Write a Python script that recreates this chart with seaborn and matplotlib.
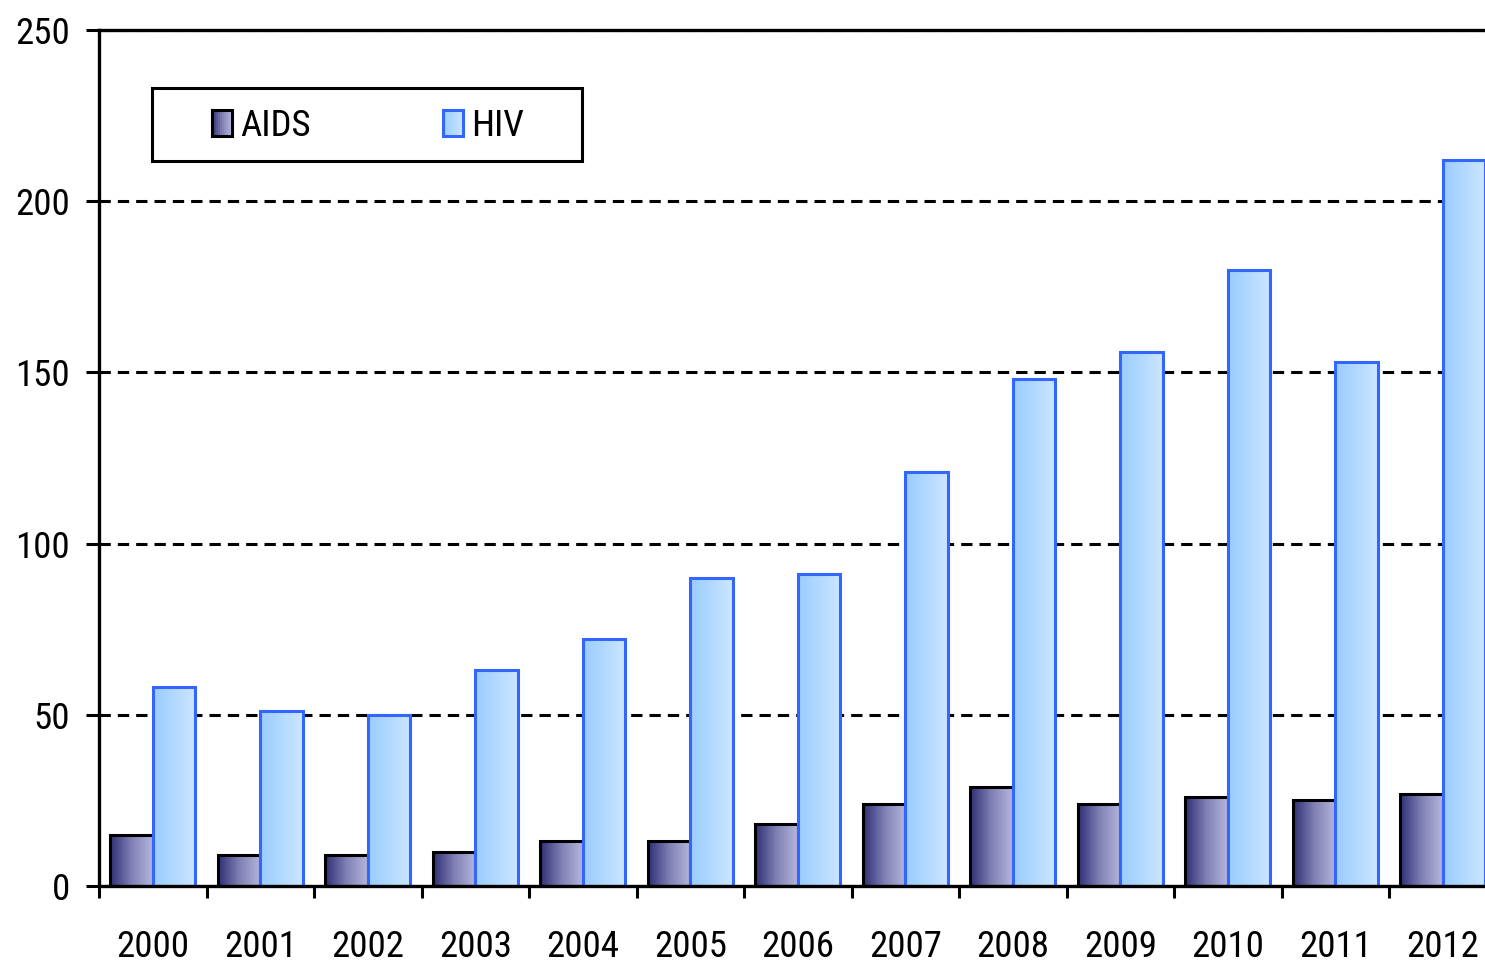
import numpy as np
import pandas as pd
import matplotlib
matplotlib.use("Agg")
import matplotlib.pyplot as plt
import seaborn as sns
from matplotlib import font_manager
from matplotlib.font_manager import FontProperties
from matplotlib.patches import Patch, Rectangle
from matplotlib.colors import LinearSegmentedColormap
from matplotlib.legend_handler import HandlerBase

# ---------------- data ----------------
years = ["2000", "2001", "2002", "2003", "2004", "2005", "2006",
         "2007", "2008", "2009", "2010", "2011", "2012"]
aids = [15, 9, 9, 10, 13, 13, 18, 24, 29, 24, 26, 25, 27]
hiv = [58, 51, 50, 63, 72, 90, 91, 121, 148, 156, 180, 153, 212]
series = ["AIDS", "HIV"]
y_ticks = [0, 50, 100, 150, 200, 250]

# ---------------- style ----------------
sns.set_style("white")
plt.rcParams["font.family"] = ["Liberation Sans", "DejaVu Sans"]
plt.rcParams["text.color"] = "black"
plt.rcParams["xtick.color"] = "black"
plt.rcParams["ytick.color"] = "black"

# pick a narrow / condensed sans font if one is installed
pref = ["Liberation Sans Narrow", "Arial Narrow", "Roboto Condensed",
        "Open Sans Condensed", "Noto Sans", "DejaVu Sans", "Roboto",
        "Open Sans", "Lato", "Inter"]
cands = []
for f in font_manager.fontManager.ttflist:
    narrow = ("Narrow" in f.name or "Condensed" in f.name
              or f.stretch in ("condensed", "semi-condensed"))
    if narrow and f.style == "normal" and f.weight in (400, "normal", "regular"):
        rank = next((i for i, p in enumerate(pref) if f.name.startswith(p)), 99)
        sc = 0 if f.stretch == "condensed" or "Narrow" in f.name else 1
        cands.append((rank, sc, f.fname))
if cands:
    cands.sort()
    fp_base = FontProperties(fname=cands[0][2])
else:
    fp_base = FontProperties(family=["Liberation Sans", "DejaVu Sans"])

# size the font so that "2000" is about 73 px wide (as in the picture)
_tmp = plt.figure(figsize=(4, 2), dpi=100)
_t = _tmp.text(0.1, 0.5, "2000", fontproperties=fp_base, fontsize=20)
_tmp.canvas.draw()
_w = _t.get_window_extent().width
plt.close(_tmp)
fs = min(30, 20 * 73.0 / _w)
fp = fp_base.copy()
fp.set_size(fs)

cmap_aids = LinearSegmentedColormap.from_list("aids", ["#2E2E74", "#8080B4", "#B6B6DE"])
cmap_hiv = LinearSegmentedColormap.from_list("hiv", ["#99CCFF", "#CCE6FF"])
edge_aids = "black"
edge_hiv = "#3366FF"

df = pd.DataFrame({
    "year": years * 2,
    "value": aids + hiv,
    "series": ["AIDS"] * len(years) + ["HIV"] * len(years),
})

W, H = 1485, 964
fig = plt.figure(figsize=(W / 100, H / 100), dpi=100)
ax = fig.add_axes([99 / W, 78 / H, 1397.5 / W, 856 / H])

sns.barplot(data=df, x="year", y="value", hue="series", hue_order=series,
            order=years, palette=["#7070A8", "#B3D9FF"], saturation=1,
            width=0.79, gap=0, dodge=True, legend=False, ax=ax, zorder=2)

grad = np.linspace(0, 1, 256).reshape(1, -1)
styles = {"AIDS": (cmap_aids, edge_aids), "HIV": (cmap_hiv, edge_hiv)}
for i, (name, cont) in enumerate(zip(series, ax.containers)):
    cmap, ec = styles[name]
    for bar in cont:
        bar.set_facecolor("none")
        bar.set_edgecolor(ec)
        bar.set_linewidth(2.2)
        bar.set_zorder(3 + 2 * i)
        x0, y0 = bar.get_x(), bar.get_y()
        w, h = bar.get_width(), bar.get_height()
        im = ax.imshow(grad, cmap=cmap, extent=(x0, x0 + w, y0, y0 + h),
                       aspect="auto", interpolation="bilinear",
                       origin="lower", zorder=2.5 + 2 * i)
        im.set_clip_path(bar)

ax.set_xlim(-0.5, len(years) - 0.5)
ax.set_ylim(0, 250)
ax.set_yticks(y_ticks)
ax.set_yticklabels([str(t) for t in y_ticks])
ax.set_xlabel("")
ax.set_ylabel("")

# grid
ax.set_axisbelow(True)
ax.yaxis.grid(True, color="black", linestyle=(0, (3.7, 2.3)), linewidth=2.2)
ax.xaxis.grid(False)

# spines
for s in ["left", "bottom", "top"]:
    ax.spines[s].set_visible(True)
    ax.spines[s].set_color("black")
    ax.spines[s].set_linewidth(2.4)
    ax.spines[s].set_zorder(10)
ax.spines["right"].set_visible(False)

# ticks
ax.tick_params(axis="y", which="major", left=True, direction="out",
               length=9.4, width=2.2, pad=11.5)
ax.set_xticks(np.arange(-0.5, len(years), 1), minor=True)
ax.tick_params(axis="x", which="minor", bottom=True, direction="out",
               length=8.6, width=2.2)
ax.tick_params(axis="x", which="major", bottom=True, length=0, pad=31)
for t in ax.get_xticklabels() + ax.get_yticklabels():
    t.set_fontproperties(fp)


# legend with gradient handles
class GradHandler(HandlerBase):
    def __init__(self, cmap, ec):
        super().__init__()
        self.cmap = cmap
        self.ec = ec

    def create_artists(self, legend, orig_handle, xdescent, ydescent,
                       width, height, fontsize, trans):
        arts = []
        n = 10
        for k in range(n):
            r = Rectangle((-xdescent + width * k / n, -ydescent),
                          width / n * 1.05, height,
                          facecolor=self.cmap((k + 0.5) / n),
                          edgecolor="none", transform=trans,
                          antialiased=False)
            arts.append(r)
        arts.append(Rectangle((-xdescent, -ydescent), width, height,
                              facecolor="none", edgecolor=self.ec,
                              lw=2.2, transform=trans))
        return arts


h_aids = Patch(label="AIDS")
h_hiv = Patch(label="HIV")
em = fs * 100 / 72
leg = ax.legend([h_aids, h_hiv], series,
                handler_map={h_aids: GradHandler(cmap_aids, edge_aids),
                             h_hiv: GradHandler(cmap_hiv, edge_hiv)},
                loc="center left",
                bbox_to_anchor=(212 / W, 1 - 126 / H),
                bbox_transform=fig.transFigure,
                frameon=False, ncol=2, prop=fp,
                handlelength=20 / em, handleheight=27 / em,
                handletextpad=8 / em, columnspacing=132 / em,
                borderpad=0, borderaxespad=0)
leg.set_zorder(15)

fig.add_artist(Rectangle((152 / W, 1 - 161 / H), 430 / W, 73 / H,
                         transform=fig.transFigure, fill=False,
                         lw=2.2, edgecolor="black", zorder=20))

fig.savefig("out.png", dpi=100)
